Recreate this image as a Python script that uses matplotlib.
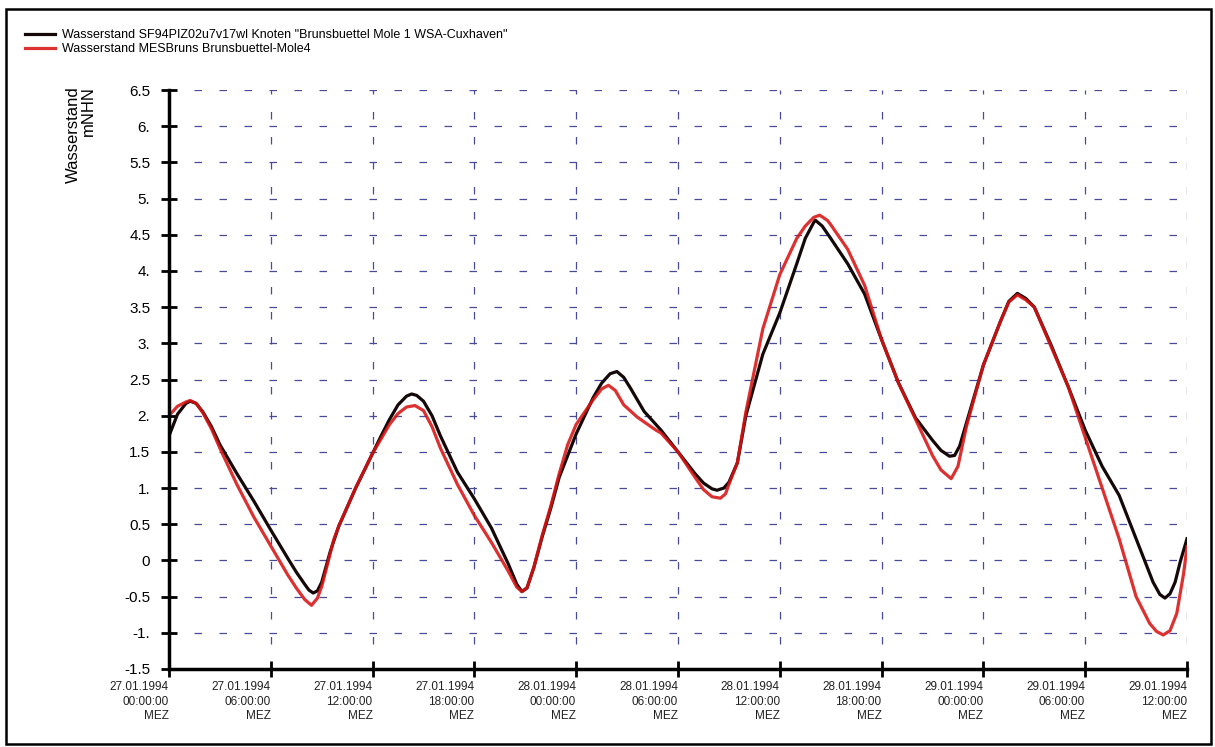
import matplotlib
matplotlib.use("Agg")
import matplotlib.pyplot as plt
from matplotlib.patches import Rectangle

plt.rcParams['font.family'] = ['Liberation Sans', 'DejaVu Sans']

# Data: hours since 27.01.1994 00:00 MEZ, water level in m NHN
# model (black)
hours_model = [0, 0.5, 1, 1.25, 1.6, 2, 2.5, 3, 4, 5, 6, 7, 7.5, 8, 8.25, 8.5, 8.75, 9, 9.5, 10, 11, 12,
               12.5, 13, 13.5, 14, 14.3, 14.6, 15, 15.5, 16, 17, 18, 19, 20, 20.5, 20.8, 21.1, 21.5, 22,
               22.5, 23, 24, 25, 25.5, 26, 26.4, 26.8, 27.2, 28, 29, 30, 31, 31.5, 32, 32.3, 32.7, 33,
               33.5, 34, 35, 36, 37, 37.5, 38, 38.1, 38.5, 39, 40, 41, 42, 43, 44, 45, 45.5, 46, 46.3,
               46.6, 47, 48, 49, 49.5, 50, 50.5, 51, 52, 53, 54, 55, 56, 57, 58, 58.4, 58.7, 59, 59.3,
               59.6, 60]
level_model = [1.72, 2.02, 2.17, 2.2, 2.17, 2.05, 1.85, 1.6, 1.2, 0.82, 0.42, 0.03, -0.16, -0.33, -0.41,
               -0.45, -0.42, -0.3, 0.12, 0.47, 1.0, 1.48, 1.72, 1.95, 2.15, 2.27, 2.3, 2.28, 2.2, 2.0,
               1.72, 1.22, 0.85, 0.45, -0.05, -0.33, -0.43, -0.38, -0.1, 0.33, 0.72, 1.15, 1.75, 2.25,
               2.45, 2.58, 2.61, 2.53, 2.38, 2.06, 1.8, 1.5, 1.2, 1.07, 0.99, 0.97, 1.0, 1.08, 1.35, 2.0,
               2.85, 3.42, 4.1, 4.45, 4.67, 4.7, 4.62, 4.45, 4.1, 3.68, 3.05, 2.45, 1.97, 1.66, 1.52,
               1.44, 1.45, 1.58, 1.9, 2.7, 3.3, 3.58, 3.69, 3.62, 3.5, 2.97, 2.4, 1.8, 1.3, 0.9, 0.3,
               -0.3, -0.47, -0.52, -0.46, -0.3, -0.02, 0.3]

# measurement (red)
hours_meas = [0, 0.5, 1, 1.25, 1.6, 2, 2.5, 3, 4, 5, 6, 7, 7.5, 8, 8.4, 8.75, 9, 9.3, 9.7, 10, 11, 12, 13,
              13.5, 14, 14.5, 15, 15.5, 16, 17, 18, 19, 20, 20.5, 20.8, 21.1, 21.5, 22, 22.5, 23, 23.5,
              24, 25, 25.5, 25.9, 26.3, 26.8, 27.6, 28.7, 29, 30, 31, 31.5, 32, 32.5, 32.8, 33, 33.5, 34,
              35, 36, 37, 37.5, 38, 38.35, 38.8, 39, 40, 41, 42, 43, 44, 45, 45.5, 46.1, 46.5, 47, 48,
              49, 49.5, 50, 50.5, 51, 52, 53, 54, 55, 56, 57, 57.8, 58.2, 58.6, 59, 59.4, 59.8, 60]
level_meas = [2.0, 2.13, 2.19, 2.21, 2.17, 2.04, 1.82, 1.55, 1.05, 0.6, 0.2, -0.2, -0.38, -0.54, -0.62,
              -0.52, -0.36, -0.09, 0.28, 0.47, 1.0, 1.48, 1.88, 2.03, 2.12, 2.14, 2.07, 1.85, 1.55, 1.05,
              0.62, 0.25, -0.15, -0.37, -0.43, -0.38, -0.1, 0.35, 0.75, 1.2, 1.6, 1.88, 2.22, 2.37, 2.42,
              2.35, 2.15, 1.98, 1.8, 1.76, 1.5, 1.15, 0.98, 0.88, 0.86, 0.92, 1.05, 1.35, 2.05, 3.2, 3.95,
              4.45, 4.62, 4.74, 4.77, 4.7, 4.64, 4.3, 3.8, 3.05, 2.45, 1.95, 1.45, 1.25, 1.13, 1.3, 1.85,
              2.7, 3.3, 3.57, 3.67, 3.6, 3.5, 2.95, 2.4, 1.7, 1.0, 0.3, -0.5, -0.87, -0.98, -1.03, -0.97,
              -0.73, -0.18, 0.19]

x_ticks = [0, 6, 12, 18, 24, 30, 36, 42, 48, 54, 60]
x_labels = ["27.01.1994\n00:00:00\nMEZ", "27.01.1994\n06:00:00\nMEZ", "27.01.1994\n12:00:00\nMEZ",
            "27.01.1994\n18:00:00\nMEZ", "28.01.1994\n00:00:00\nMEZ", "28.01.1994\n06:00:00\nMEZ",
            "28.01.1994\n12:00:00\nMEZ", "28.01.1994\n18:00:00\nMEZ", "29.01.1994\n00:00:00\nMEZ",
            "29.01.1994\n06:00:00\nMEZ", "29.01.1994\n12:00:00\nMEZ"]
y_ticks = [-1.5, -1, -0.5, 0, 0.5, 1, 1.5, 2, 2.5, 3, 3.5, 4, 4.5, 5, 5.5, 6, 6.5]
y_labels = ["-1.5", "-1.", "-0.5", "0", "0.5", "1.", "1.5", "2.", "2.5", "3.", "3.5", "4.",
            "4.5", "5.", "5.5", "6.", "6.5"]

fig = plt.figure(figsize=(12.15, 7.47), dpi=100)
ax = fig.add_axes([169 / 1215, 1 - 669 / 747, (1187 - 169) / 1215, (669 - 90) / 747])

ax.plot(hours_model, level_model, color='#140808', lw=2.3, solid_joinstyle='round',
        label='Wasserstand SF94PIZ02u7v17wl Knoten "Brunsbuettel Mole 1 WSA-Cuxhaven"')
ax.plot(hours_meas, level_meas, color='#d81414', lw=2.3, alpha=0.88, solid_joinstyle='round',
        label='Wasserstand MESBruns Brunsbuettel-Mole4')

ax.set_xlim(0, 60)
ax.set_ylim(-1.5, 6.5)
ax.set_xticks(x_ticks)
ax.set_xticklabels(x_labels, fontsize=8.5, ha='right', multialignment='right', linespacing=1.3,
                   color='#222222')
ax.set_yticks(y_ticks)
ax.set_yticklabels(y_labels, fontsize=11)
ax.tick_params(axis='both', direction='inout', length=11, width=2, color='black')
ax.tick_params(axis='x', pad=3)
ax.tick_params(axis='y', pad=8)

ax.grid(True, color='#4a4a9a', lw=0.9, linestyle=(0, (6, 14)))
ax.set_axisbelow(True)

for s in ['top', 'right']:
    ax.spines[s].set_visible(False)
for s in ['left', 'bottom']:
    ax.spines[s].set_linewidth(2.5)

fig.text(81 / 1215, 1 - 86 / 747, "Wasserstand\nmNHN", rotation=90, ha='center', va='top',
         multialignment='right', fontsize=12, linespacing=1.0)

fig.legend(loc='upper left', bbox_to_anchor=(25 / 1215, 1 - 29 / 747), frameon=False,
           fontsize=9, handlelength=2.4, handletextpad=0.6, labelspacing=0.15,
           borderpad=0, borderaxespad=0)

fig.patches.append(Rectangle((6 / 1215, 3 / 747), 1205 / 1215, 735 / 747, transform=fig.transFigure,
                             fill=False, edgecolor='black', lw=1.8))

fig.savefig('out.png', dpi=100)
